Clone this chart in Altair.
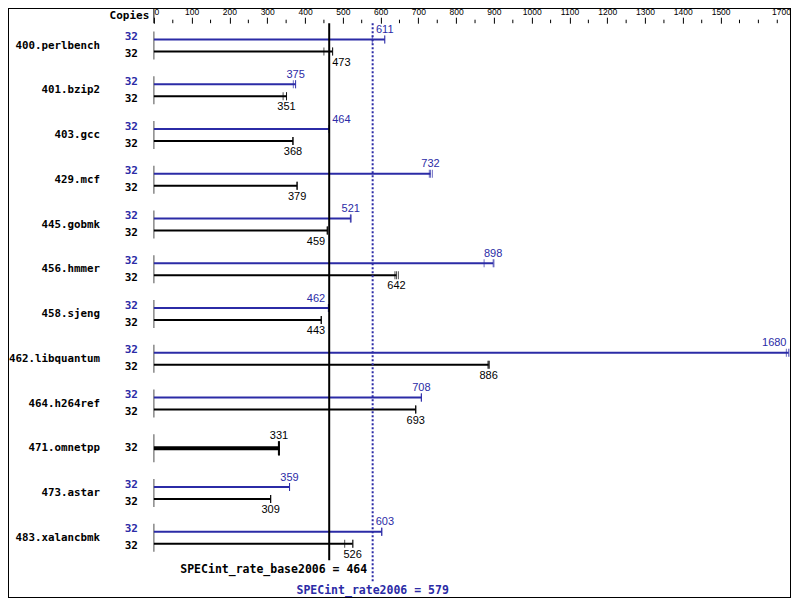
import altair as alt
import pandas as pd

# ---------------- data ----------------
benchmarks = ["400.perlbench", "401.bzip2", "403.gcc", "429.mcf", "445.gobmk",
              "456.hmmer", "458.sjeng", "462.libquantum", "464.h264ref",
              "471.omnetpp", "473.astar", "483.xalancbmk"]
peak_copies = [32, 32, 32, 32, 32, 32, 32, 32, 32, None, 32, 32]
base_copies = [32, 32, 32, 32, 32, 32, 32, 32, 32, 32, 32, 32]
peak_ratio = [611, 375, 464, 732, 521, 898, 462, 1680, 708, None, 359, 603]
base_ratio = [473, 351, 368, 379, 459, 642, 443, 886, 693, 331, 309, 526]
peak_runs = [[578, 611, 611], [369, 375, 375], [464, 464, 464], [729, 732, 737],
             [520, 521, 522], [874, 898, 900], [462, 462, 462], [1674, 1680, 1684],
             [708, 708, 708], None, [359, 359, 359], [603, 603, 603]]
base_runs = [[450, 473, 473], [342, 351, 351], [368, 368, 368], [379, 379, 379],
             [459, 459, 459], [638, 642, 647], [443, 443, 443], [884, 886, 888],
             [693, 693, 693], [331, 331, 331], [309, 309, 309], [505, 526, 527]]
base_metric = 464
peak_metric = 579
base_metric_text = "SPECint_rate_base2006 = 464"
peak_metric_text = "SPECint_rate2006 = 579"
axis_end = 1685
major_ticks = [0, 100, 200, 300, 400, 500, 600, 700, 800, 900, 1000, 1100,
               1200, 1300, 1400, 1500, 1685]
minor_ticks = [50, 150, 250, 350, 450, 550, 650, 750, 850, 950, 1050, 1150,
               1250, 1350, 1450, 1550, 1600, 1650]

# ---------------- styling ----------------
BLUE = "#2b2ba6"
BLACK = "#000000"
MONO = "DejaVu Sans Mono"
SANS = "Liberation Sans"
W, H = 636.6, 537
PL, PT, PR = 145.9, 15.2, 0.5
PB = 590 - PT - H

# ---------------- tables ----------------
def anchor(v):
    for r in (base_metric, peak_metric):
        if abs(v - r) < 28:
            return (r, "left") if v >= r else (r, "right")
    if v > axis_end - 30:
        return (axis_end, "right")
    return (v, "center")

bars, runs, singles, single_runs = [], [], [], []
for i, b in enumerate(benchmarks):
    if peak_ratio[i] is None:
        lx, al = anchor(base_ratio[i])
        singles.append(dict(bench=b, v=base_ratio[i], zero=0, lx=lx, al=al,
                            label=str(base_ratio[i]), copies=str(base_copies[i])))
        for r in base_runs[i]:
            single_runs.append(dict(bench=b, v=r))
        continue
    for kind, val, cp, rr in (("peak", peak_ratio[i], peak_copies[i], peak_runs[i]),
                              ("base", base_ratio[i], base_copies[i], base_runs[i])):
        lx, al = anchor(val)
        bars.append(dict(bench=b, kind=kind, v=val, zero=0, lx=lx, al=al,
                         label=str(val), copies=str(cp)))
        for r in rr:
            runs.append(dict(bench=b, kind=kind, v=r))

df_bars = pd.DataFrame(bars)
df_runs = pd.DataFrame(runs)
df_single = pd.DataFrame(singles)
df_single_runs = pd.DataFrame(single_runs)
df_bench = pd.DataFrame({"bench": benchmarks, "v": [0] * len(benchmarks)})
df_minor = pd.DataFrame({"v": minor_ticks})
df_zero = pd.DataFrame({"v": [0]})
df_refb = pd.DataFrame({"v": [base_metric], "t": [base_metric_text]})
df_refp = pd.DataFrame({"v": [peak_metric], "t": [peak_metric_text]})

# ---------------- encodings ----------------
xs = alt.Scale(domain=[0, axis_end], nice=False, zero=False)
xaxis = alt.Axis(orient="top", values=major_ticks, title=None, grid=False,
                 domain=False, tickSize=6, tickColor=BLACK, labelColor=BLACK,
                 labelFont=SANS, labelFontSize=8.5, labelPadding=0.5, format="d",
                 labelFlush=True, labelOverlap=False,
                 labelExpr="datum.value > 1600 ? '1700' : datum.label")

def X(f):
    return alt.X(f, type="quantitative", scale=xs, axis=xaxis)

Y = alt.Y("bench:N", sort=benchmarks,
          scale=alt.Scale(domain=benchmarks, paddingInner=0, paddingOuter=0),
          axis=None)
YO = alt.YOffset("kind:N", scale=alt.Scale(domain=["peak", "base"],
                                           paddingInner=0, paddingOuter=0.875))
COL = alt.Color("kind:N", scale=alt.Scale(domain=["peak", "base"],
                                          range=[BLUE, BLACK]), legend=None)

layers = []

# axis minor ticks and header separator
layers.append(alt.Chart(df_minor).mark_rule(color=BLACK, strokeWidth=1).encode(
    x=X("v"), y=alt.value(-3.5), y2=alt.value(0)))
layers.append(alt.Chart(df_zero).mark_rule(color=BLACK, strokeWidth=1).encode(
    x=X("v"), y=alt.value(-PT), y2=alt.value(0)))

# group start ticks
layers.append(alt.Chart(df_bench).mark_tick(color=BLACK, size=28, thickness=1).encode(
    x=X("v"), y=Y))

# bars
layers.append(alt.Chart(df_bars).mark_rule(strokeWidth=2).encode(
    x=X("zero"), x2="v", y=Y, yOffset=YO, color=COL))
layers.append(alt.Chart(df_runs).mark_tick(size=8, thickness=1).encode(
    x=X("v"), y=Y, yOffset=YO, color=COL))
layers.append(alt.Chart(df_single).mark_rule(strokeWidth=4, color=BLACK).encode(
    x=X("zero"), x2="v", y=Y))
layers.append(alt.Chart(df_single_runs).mark_tick(size=14, thickness=2, color=BLACK).encode(
    x=X("v"), y=Y))

# reference lines
layers.append(alt.Chart(df_refb).mark_rule(color=BLACK, strokeWidth=2).encode(x=X("v")))
layers.append(alt.Chart(df_refp).mark_rule(color=BLUE, strokeWidth=2, strokeDash=[2, 2]).encode(
    x=X("v"), y=alt.value(0), y2=alt.value(560)))

# value labels
offs = {"left": 3, "right": -4, "center": 0}
for kind, dy, color in (("peak", -9.5, BLUE), ("base", 11, BLACK)):
    for al in ("left", "right", "center"):
        sub = df_bars[(df_bars["kind"] == kind) & (df_bars["al"] == al)]
        if len(sub) == 0:
            continue
        layers.append(alt.Chart(sub).mark_text(
            align=al, baseline="middle", dx=offs[al], dy=dy, font=SANS,
            fontSize=11, color=color).encode(x=X("lx"), y=Y, yOffset=YO, text="label:N"))
for al in ("left", "right", "center"):
    sub = df_single[df_single["al"] == al]
    if len(sub) == 0:
        continue
    layers.append(alt.Chart(sub).mark_text(
        align=al, baseline="middle", dx=offs[al], dy=-12, font=SANS,
        fontSize=11, color=BLACK).encode(x=X("lx"), y=Y, text="label:N"))

# copies labels
layers.append(alt.Chart(df_bars[df_bars["kind"] == "peak"]).mark_text(
    align="right", baseline="middle", dy=-2.5, font=MONO, fontWeight="bold",
    fontSize=11, color=BLUE).encode(x=alt.value(-16), y=Y, yOffset=YO, text="copies:N"))
layers.append(alt.Chart(df_bars[df_bars["kind"] == "base"]).mark_text(
    align="right", baseline="middle", dy=2.5, font=MONO, fontWeight="bold",
    fontSize=11, color=BLACK).encode(x=alt.value(-16), y=Y, yOffset=YO, text="copies:N"))
layers.append(alt.Chart(df_single).mark_text(
    align="right", baseline="middle", font=MONO, fontWeight="bold",
    fontSize=11, color=BLACK).encode(x=alt.value(-16), y=Y, text="copies:N"))

# benchmark names
layers.append(alt.Chart(df_bench).mark_text(
    align="right", baseline="middle", font=MONO, fontWeight="bold",
    fontSize=10.8, color=BLACK).encode(x=alt.value(-54), y=Y, text="bench:N"))

# header
layers.append(alt.Chart(df_zero).mark_text(
    text="Copies", align="right", baseline="middle", font=MONO, fontWeight="bold",
    fontSize=11, color=BLACK).encode(x=alt.value(-4.6), y=alt.value(-7.5)))

# metric labels
layers.append(alt.Chart(df_refb).mark_text(
    align="right", baseline="middle", dx=38, font=MONO, fontWeight="bold",
    fontSize=11.5, color=BLACK).encode(x=X("v"), y=alt.value(546.8), text="t:N"))
layers.append(alt.Chart(df_refp).mark_text(
    align="center", baseline="middle", font=MONO, fontWeight="bold",
    fontSize=11.5, color=BLUE).encode(x=X("v"), y=alt.value(567.5), text="t:N"))

# outer frame (as far out as the page allows)
layers.append(alt.Chart(df_zero).mark_rule(color=BLACK, strokeWidth=1).encode(
    x=alt.value(W + PR - 0.5), y=alt.value(-PT), y2=alt.value(H + PB)))
layers.append(alt.Chart(df_zero).mark_rule(color=BLACK, strokeWidth=1).encode(
    x=alt.value(-PL), x2=alt.value(W + PR), y=alt.value(H + PB - 0.5)))
layers.append(alt.Chart(df_zero).mark_rule(color=BLACK, strokeWidth=1).encode(
    x=alt.value(-PL + 0.5), y=alt.value(-PT), y2=alt.value(H + PB)))
layers.append(alt.Chart(df_zero).mark_rule(color=BLACK, strokeWidth=1).encode(
    x=alt.value(-PL), x2=alt.value(W + PR), y=alt.value(-PT + 0.5)))

chart = alt.layer(*layers).properties(
    width=W, height=H, autosize="none",
    padding={"left": PL, "top": PT, "right": PR, "bottom": PB},
    background="white",
).configure_view(stroke="transparent")

chart.save("out.html", embed_options={"renderer": "svg", "actions": False})
